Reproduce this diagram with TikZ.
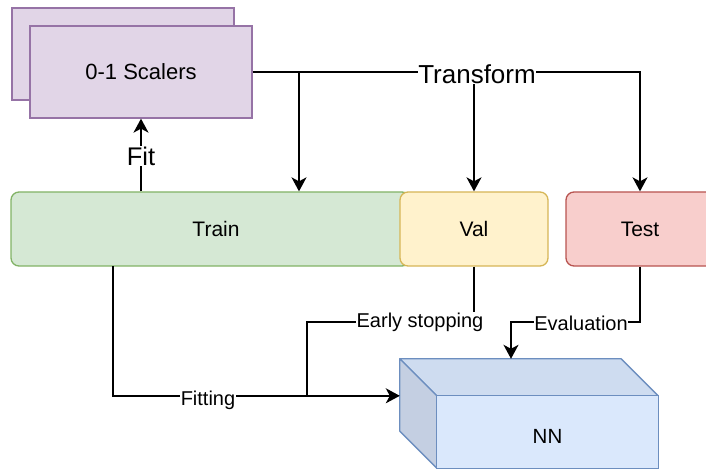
\documentclass[tikz,border=0pt]{standalone}
\usepackage{fontspec}
\setmainfont{Liberation Sans}
\usetikzlibrary{arrows.meta,calc}
\definecolor{purpfill}{HTML}{E1D5E7}
\definecolor{purpline}{HTML}{9673A6}
\definecolor{greenfill}{HTML}{D5E8D4}
\definecolor{greenline}{HTML}{82B366}
\definecolor{yelfill}{HTML}{FFF2CC}
\definecolor{yelline}{HTML}{D6B656}
\definecolor{redfill}{HTML}{F8CECC}
\definecolor{redline}{HTML}{B85450}
\definecolor{bluefill}{HTML}{DAE8FC}
\definecolor{bluetop}{HTML}{CEDCF0}
\definecolor{blueside}{HTML}{C4CFE2}
\definecolor{blueline}{HTML}{6C8EBF}
\tikzset{
  box/.style={draw, line width=1.3pt, minimum height=74pt, inner sep=0pt, font=\fontsize{21}{25}\selectfont},
  scbox/.style={draw=purpline, fill=purpfill, line width=1.3pt, minimum width=222pt, minimum height=92pt, inner sep=0pt, font=\fontsize{22}{26}\selectfont},
  conn/.style={line width=1.6pt},
  arr/.style={conn, -{Stealth[length=14pt,width=15pt,inset=4pt]}},
  lbl/.style={fill=white, inner sep=0.5pt, font=\fontsize{20}{24}\selectfont},
}
\begin{document}
\begin{tikzpicture}[x=1pt,y=-1pt]
\useasboundingbox (0,0) rectangle (706,470);
% scalers
\node[scbox] (scback) at (123,54) {};
\node[scbox] (sc) at (141,72) {0-1 Scalers};
% data boxes
\node[box, draw=greenline, fill=greenfill, rounded corners=8pt, minimum width=399pt] (train) at (210.5,229) {};
\node[font=\fontsize{21}{25}\selectfont] (traintxt) at (216,229) {Train};
\node[box, draw=yelline, fill=yelfill, rounded corners=8pt, minimum width=148pt] (val) at (474,229) {Val};
\node[box, draw=redline, fill=redfill, rounded corners=8pt, minimum width=148pt] (test) at (640,229) {Test};
% NN cube
\node[minimum width=258pt, minimum height=109pt, inner sep=0pt] (nn) at (529,413.5) {};
\coordinate (bl) at (nn.north west);
\coordinate (br) at ($(nn.north east)+(-37,0)$);
\coordinate (fl) at ($(nn.north west)+(37,37)$);
\coordinate (fr) at ($(nn.north east)+(0,37)$);
\coordinate (fbl) at ($(nn.south west)+(37,0)$);
\coordinate (lb) at ($(nn.south west)+(0,-37)$);
\filldraw[fill=bluetop, draw=blueline, line width=1.3pt, line join=round] (bl) -- (br) -- (fr) -- (fl) -- cycle;
\filldraw[fill=blueside, draw=blueline, line width=1.3pt, line join=round] (bl) -- (fl) -- (fbl) -- (lb) -- cycle;
\filldraw[fill=bluefill, draw=blueline, line width=1.3pt] (fl) rectangle (nn.south east);
\node[font=\fontsize{20.5}{24}\selectfont] (nntxt) at ($(fl)!0.5!(nn.south east)+(0,4)$) {NN};
% transform connectors
\coordinate (tj) at (299,72);
\draw[arr] (sc.east) -| (test.north);
\draw[arr] (tj) -- (tj |- train.north);
\draw[arr] (val.north |- sc.east) -- (val.north);
\node[lbl, font=\fontsize{26}{30}\selectfont] (tlbl) at (477,74) {Transform};
% fit
\draw[arr] (train.north -| sc.south) -- (sc.south);
\node[lbl, font=\fontsize{25.5}{30}\selectfont] (fitlbl) at (141,156) {Fit};
% fitting
\coordinate (ftop) at (113,266);
\coordinate (nnin) at ($(nn.north west)+(0,37)$);
\draw[arr] (ftop) |- (nnin);
\node[lbl] (fittinglbl) at (208,400) {Fitting};
% early stopping
\coordinate (esc) at (307,322);
\draw[conn] (val.south) |- (esc) -- (esc |- nnin);
\node[lbl] (eslbl) at (420,322) {Early stopping};
% evaluation
\coordinate (evc) at (511,322);
\draw[arr] (test.south) |- (evc) -- (evc |- nn.north);
\node[lbl] (evlbl) at (581,323) {Evaluation};
\end{tikzpicture}
\end{document}
